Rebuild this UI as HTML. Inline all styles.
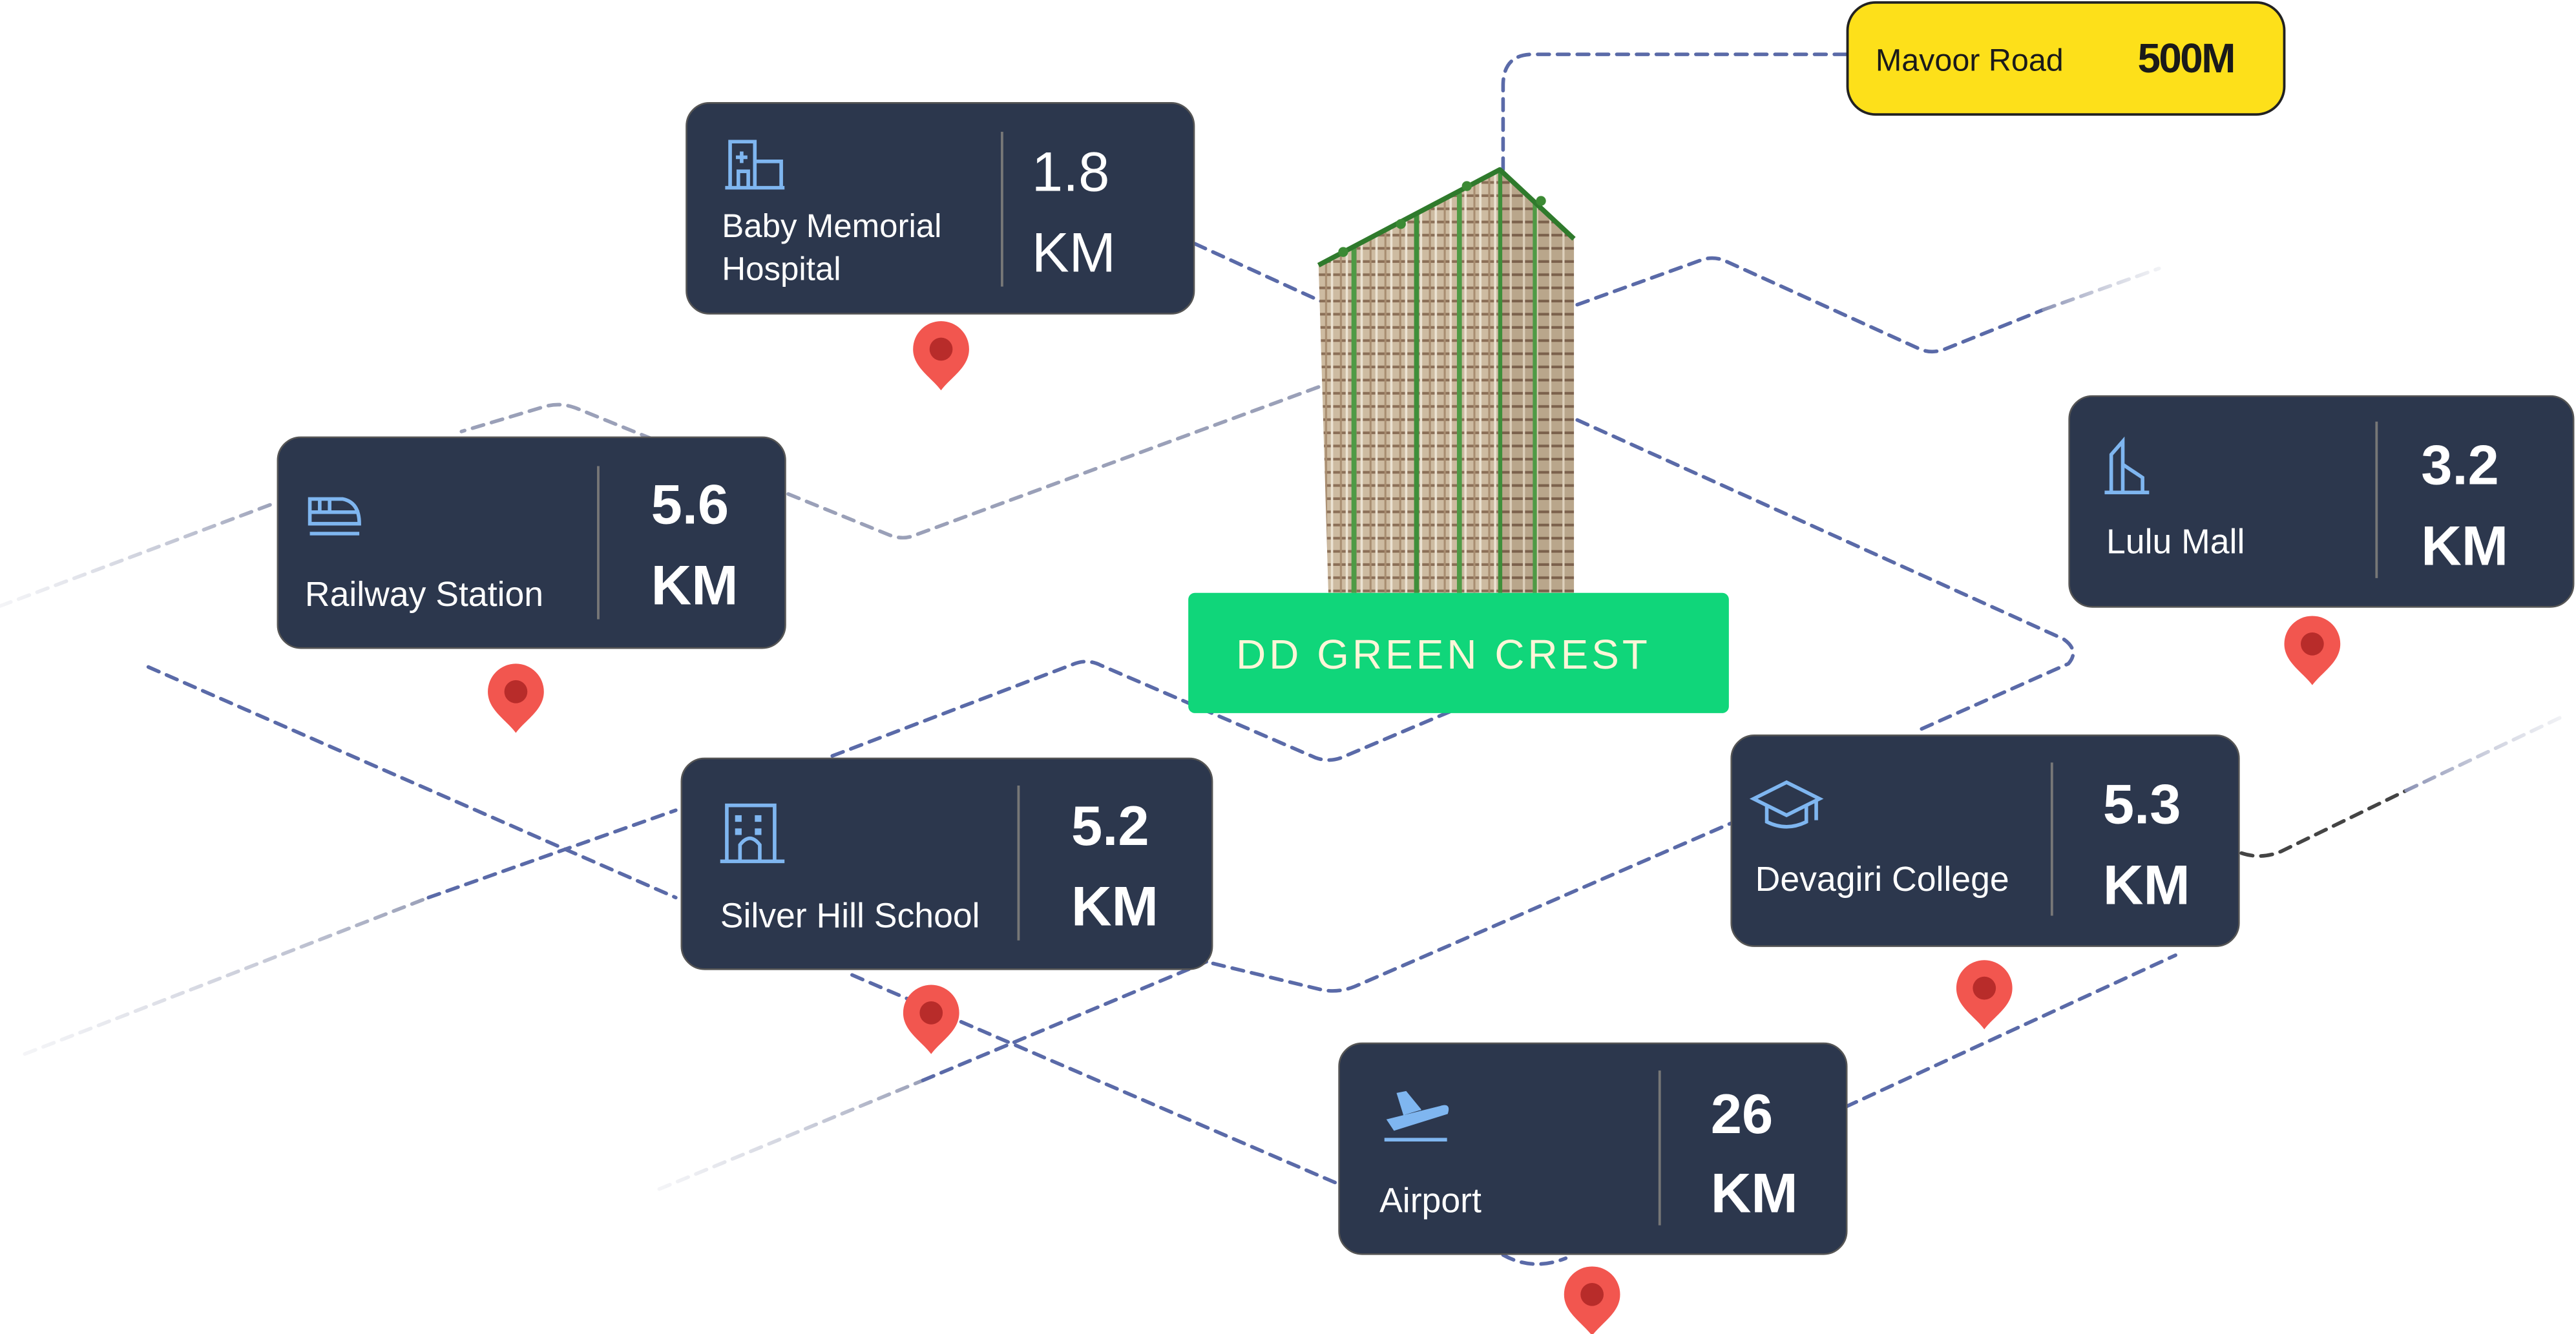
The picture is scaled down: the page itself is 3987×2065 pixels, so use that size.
<!DOCTYPE html>
<html><head><meta charset="utf-8"><style>
html,body{margin:0;padding:0;background:#fff;}
svg{display:block;}
text{font-family:"Liberation Sans",sans-serif;}
</style></head><body>
<svg width="3987" height="2065" viewBox="0 0 1563 810" preserveAspectRatio="none" xmlns="http://www.w3.org/2000/svg">
<defs>
<linearGradient id="fadeL" x1="0" x2="1" y1="0" y2="0"><stop offset="0" stop-color="#c8cbd8" stop-opacity="0.2"/><stop offset="1" stop-color="#9aa0b8"/></linearGradient>
<linearGradient id="fadeR" x1="0" x2="1" y1="0" y2="0"><stop offset="0" stop-color="#8c93b5"/><stop offset="1" stop-color="#d0d3de" stop-opacity="0.3"/></linearGradient>
<pattern id="floors" width="9" height="8" patternUnits="userSpaceOnUse">
<rect width="9" height="8" fill="#cdbba1"/><rect y="6" width="9" height="1.6" fill="#8b6f57"/><rect x="3" width="1.2" height="8" fill="#a88d70"/><rect x="6.5" width="1.4" height="8" fill="#ece3d3"/>
</pattern>
<pattern id="floors2" width="8" height="8" patternUnits="userSpaceOnUse">
<rect width="8" height="8" fill="#b9a68b"/><rect y="6" width="8" height="1.6" fill="#7b614c"/><rect x="4" width="1.3" height="8" fill="#ddd0bb"/>
</pattern>
<g id="pin"><path d="M0,24 C-6,16 -17,10 -17,-1 A17,17 0 0 1 17,-1 C17,10 6,16 0,24 Z" fill="#f2564f"/><circle cx="0" cy="-1" r="7" fill="#b82c2a"/></g>
</defs>

<g fill="none" stroke-width="2.2" stroke-dasharray="7 5" stroke-linecap="round">
<path d="M1120,33 L930,33 Q912,33 912,52 L912,130" stroke="#5a6aa8"/>
<path d="M725,148 L806,185" stroke="#5a6aa8"/>
<path d="M957,185 L1032,158 Q1040,155 1048,159 L1165,212 Q1172,215 1180,212 L1240,188" stroke="#5a6aa8"/>
<path d="M1240,188 L1310,163" stroke="url(#fadeR)"/>
<path d="M800,235 L555,325 Q548,328 540,325 L350,248 Q340,244 330,247 L280,262" stroke="#9aa0b8"/>
<path d="M0,368 L168,305" stroke="url(#fadeL)"/>
<path d="M957,255 L1252,388 Q1262,395 1255,403 L1165,443" stroke="#5a6aa8"/>
<path d="M90,405 L410,545" stroke="#5a6aa8"/>
<path d="M517,592 L810,718" stroke="#5a6aa8"/>
<path d="M15,640 L260,545" stroke="url(#fadeL)"/>
<path d="M260,545 L410,492" stroke="#5a6aa8"/>
<path d="M505,459 L652,403 Q660,400 668,404 L798,460 Q806,463 814,460 L880,432" stroke="#5a6aa8"/>
<path d="M736,585 L802,601 Q812,603 822,599 L1050,500" stroke="#5a6aa8"/>
<path d="M400,722 L560,656" stroke="url(#fadeL)"/>
<path d="M560,656 L732,584" stroke="#5a6aa8"/>
<path d="M1360,518 Q1372,522 1384,517 L1460,480" stroke="#444"/>
<path d="M1460,480 L1555,435" stroke="url(#fadeR)"/>
<path d="M1120,672 L1320,580" stroke="#5a6aa8"/>
<path d="M912,762 Q930,772 950,764" stroke="#5a6aa8"/>
</g>

<!-- Building -->
<g>
<polygon points="800,160 910,103 910,360 806,360" fill="url(#floors)"/>
<polygon points="910,103 955,145 955,360 910,360" fill="url(#floors2)"/>
<rect x="820" y="150" width="3" height="210" fill="#4f9a45"/>
<rect x="858" y="130" width="3" height="230" fill="#3f8f3a"/>
<rect x="884" y="117" width="3" height="243" fill="#4f9a45"/>
<rect x="909" y="104" width="2.5" height="256" fill="#3f8f3a"/>
<rect x="930" y="122" width="2.5" height="238" fill="#4f9a45"/>
<polyline points="800,161 855,132 910,103 955,145" fill="none" stroke="#2f7a2c" stroke-width="3" stroke-linejoin="round"/>
<circle cx="815" cy="153" r="3" fill="#3c8a34"/><circle cx="850" cy="136" r="3" fill="#3c8a34"/><circle cx="890" cy="113" r="3" fill="#3c8a34"/><circle cx="935" cy="122" r="3" fill="#3c8a34"/>
</g>

<rect x="721" y="360" width="328" height="73" rx="4" fill="#10d67a"/>
<text x="750" y="406" font-size="25" fill="#fff6d8" letter-spacing="2">DD GREEN CREST</text>

<rect x="1121" y="1.5" width="265" height="68" rx="17" fill="#fde01a" stroke="#222" stroke-width="1.5"/>
<text x="1138" y="43" font-size="19" fill="#1a1a1a">Mavoor Road</text>
<text x="1297" y="44" font-size="25" fill="#1a1a1a" font-weight="bold" letter-spacing="-1">500M</text>

<g stroke="#555" stroke-width="1">
<rect x="416.5" y="62.5" width="308" height="128" rx="14" fill="#2c374d"/>
<rect x="168.5" y="265.5" width="308" height="128" rx="14" fill="#2c374d"/>
<rect x="413.5" y="460.5" width="322" height="128" rx="14" fill="#2c374d"/>
<rect x="1255.5" y="240.5" width="306" height="128" rx="14" fill="#2c374d"/>
<rect x="1050.5" y="446.5" width="308" height="128" rx="14" fill="#2c374d"/>
<rect x="812.5" y="633.5" width="308" height="128" rx="14" fill="#2c374d"/>
</g>
<g stroke="#777" stroke-width="1.5">
<line x1="608" y1="80" x2="608" y2="174"/>
<line x1="363" y1="283" x2="363" y2="376"/>
<line x1="618" y1="477" x2="618" y2="571"/>
<line x1="1442" y1="256" x2="1442" y2="351"/>
<line x1="1245" y1="463" x2="1245" y2="556"/>
<line x1="1007" y1="650" x2="1007" y2="744"/>
</g>

<g fill="none" stroke="#7fb6f0" stroke-width="2.2">
<path d="M440,114 L476,114 M443,114 L443,86 L458,86 L458,114 M458,98 L474,98 L474,114 M448,114 L448,104 L454,104 L454,114 M450,92 L450,99 M446.5,95.5 L453.5,95.5"/>
<path d="M188,318 L188,303 L208,303 Q218,305 218,318 Z M188,311 L218,311 M194,303 L194,311 M200,303 L200,311 M188,324 L218,324"/>
<path d="M437,523 L476,523 M441,523 L441,489 L470,489 L470,523 M449,523 L449,513 Q455,505 461,513 L461,523"/>
<path d="M1277,299 L1304,299 M1281,299 L1281,276 L1288,268 L1288,299 M1288,282 L1300,290 L1300,299"/>
<path d="M1064,485 L1084,475 L1104,485 L1084,495 Z M1072,489 L1072,499 Q1084,505 1096,499 L1096,489 M1102,486 L1102,498"/>
<path d="M840,692 L878,692"/>
<path d="M842,680 L874,672 Q880,670 878,676 L846,686 Z M852,677 L848,664 L853,663 L862,674" fill="#7fb6f0" stroke-width="1"/>
</g>
<g fill="#7fb6f0">
<rect x="446" y="495" width="4" height="4"/><rect x="458" y="495" width="4" height="4"/>
<rect x="446" y="503" width="4" height="4"/><rect x="458" y="503" width="4" height="4"/>
</g>

<g fill="#fff">
<text x="438" y="144" font-size="20">Baby Memorial</text>
<text x="438" y="170" font-size="20">Hospital</text>
<text x="626" y="116" font-size="34">1.8</text>
<text x="626" y="165" font-size="34">KM</text>
<text x="185" y="368" font-size="21">Railway Station</text>
<text x="395" y="318" font-size="34" font-weight="bold">5.6</text>
<text x="395" y="367" font-size="34" font-weight="bold">KM</text>
<text x="437" y="563" font-size="21">Silver Hill School</text>
<text x="650" y="513" font-size="34" font-weight="bold">5.2</text>
<text x="650" y="562" font-size="34" font-weight="bold">KM</text>
<text x="1278" y="336" font-size="21">Lulu Mall</text>
<text x="1469" y="294" font-size="34" font-weight="bold">3.2</text>
<text x="1469" y="343" font-size="34" font-weight="bold">KM</text>
<text x="1065" y="541" font-size="21">Devagiri College</text>
<text x="1276" y="500" font-size="34" font-weight="bold">5.3</text>
<text x="1276" y="549" font-size="34" font-weight="bold">KM</text>
<text x="837" y="736" font-size="21">Airport</text>
<text x="1038" y="688" font-size="34" font-weight="bold">26</text>
<text x="1038" y="736" font-size="34" font-weight="bold">KM</text>
</g>

<use href="#pin" x="571" y="213"/>
<use href="#pin" x="313" y="421"/>
<use href="#pin" x="565" y="616"/>
<use href="#pin" x="1403" y="392"/>
<use href="#pin" x="1204" y="601"/>
<use href="#pin" x="966" y="787"/>
</svg>
</body></html>
